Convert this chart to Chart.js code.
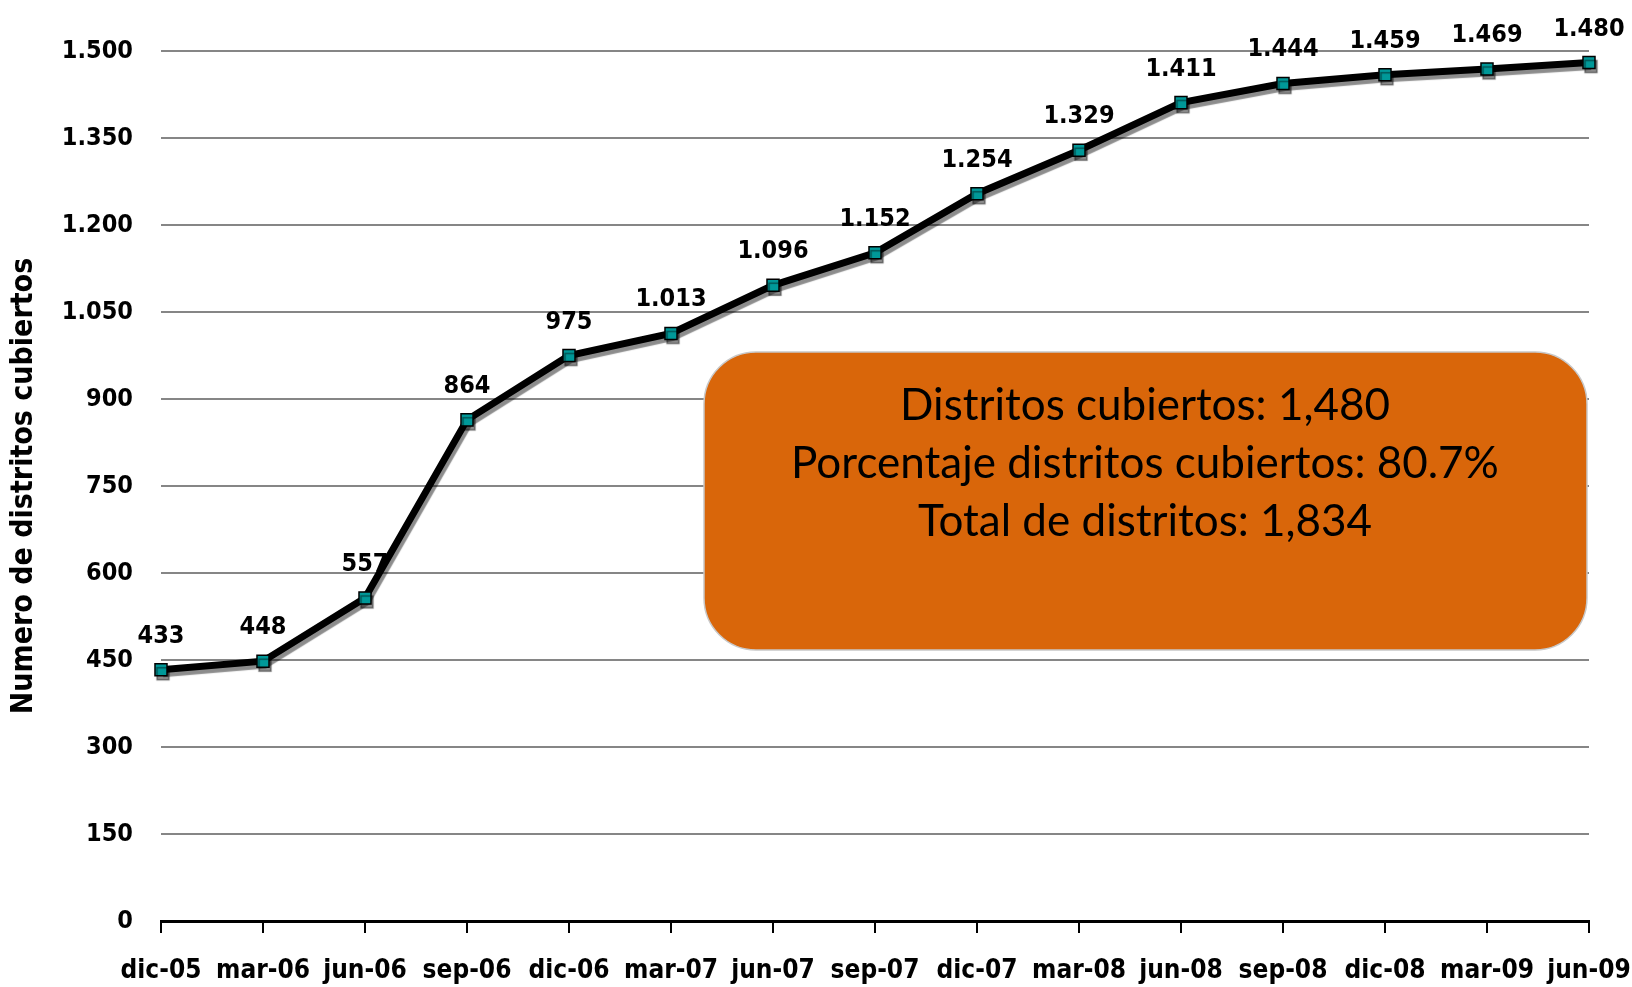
<!DOCTYPE html>
<html>
<head>
<meta charset="utf-8">
<script src="https://cdn.jsdelivr.net/npm/chart.js"></script>
<style>
  body { margin: 0; background: #fff; }
  #wrap { width: 1632px; height: 987px; }
</style>
</head>
<body>
<div id="wrap"><canvas id="myChart" width="1632" height="987"></canvas></div>
<script>
  // datos
  var periodos = ['dic-05', 'mar-06', 'jun-06', 'sep-06', 'dic-06', 'mar-07', 'jun-07', 'sep-07',
                  'dic-07', 'mar-08', 'jun-08', 'sep-08', 'dic-08', 'mar-09', 'jun-09'];
  var distritos = [433, 448, 557, 864, 975, 1013, 1096, 1152, 1254, 1329, 1411, 1444, 1459, 1469, 1480];
  var ejeY = { min: 0, max: 1500, paso: 150 };
  var titoloY = 'Numero de distritos cubiertos';
  var cuadro = ['Distritos cubiertos: 1,480', 'Porcentaje distritos cubiertos: 80.7%', 'Total de distritos: 1,834'];

  var fuente = '"DejaVu Sans Condensed", "DejaVu Sans", sans-serif';

  // 1500 -> "1.500"
  function fmt(v) {
    return String(v).replace(/\B(?=(\d{3})+(?!\d))/g, '.');
  }

  // sombra gris debajo de la linea
  var sombra = {
    id: 'sombra',
    beforeDatasetDraw: function (chart) {
      var c = chart.ctx;
      c.save();
      c.shadowColor = 'rgba(0,0,0,0.45)';
      c.shadowOffsetX = 2;
      c.shadowOffsetY = 4;
      c.shadowBlur = 1;
    },
    afterDatasetDraw: function (chart) {
      chart.ctx.restore();
    }
  };

  // etiquetas de valores encima de los puntos
  var etiquetas = {
    id: 'etiquetas',
    afterDatasetsDraw: function (chart) {
      var c = chart.ctx;
      var meta = chart.getDatasetMeta(0);
      c.save();
      c.font = 'bold 25px ' + fuente;
      c.fillStyle = '#000';
      c.textAlign = 'center';
      c.textBaseline = 'alphabetic';
      meta.data.forEach(function (pt, i) {
        c.fillText(fmt(distritos[i]), pt.x, pt.y - 27);
      });
      c.restore();
    }
  };

  // cuadro naranja con el resumen
  var resumen = {
    id: 'resumen',
    afterDraw: function (chart) {
      var c = chart.ctx;
      c.save();
      c.beginPath();
      c.roundRect(704, 352, 883, 298, 52);
      c.fillStyle = '#D9660A';
      c.fill();
      c.lineWidth = 1.5;
      c.strokeStyle = '#c8c8c8';
      c.stroke();
      c.fillStyle = '#000';
      c.font = '44px Lato, sans-serif';
      c.textAlign = 'center';
      c.textBaseline = 'middle';
      cuadro.forEach(function (t, i) {
        c.fillText(t, 1145, 406 + i * 58);
      });
      c.restore();
    }
  };

  var ctx = document.getElementById('myChart').getContext('2d');
  var myChart = new Chart(ctx, {
    type: 'line',
    data: {
      labels: periodos,
      datasets: [{
        data: distritos,
        borderColor: '#000',
        borderWidth: 7,
        tension: 0,
        fill: false,
        pointStyle: 'rect',
        pointRadius: 8.5,
        pointBackgroundColor: '#009999',
        pointBorderColor: '#000',
        pointBorderWidth: 1.5
      }]
    },
    options: {
      responsive: false,
      animation: false,
      layout: { padding: { top: 51, right: 43, left: 0, bottom: 0 } },
      plugins: {
        legend: { display: false },
        tooltip: { enabled: false }
      },
      scales: {
        x: {
          offset: false,
          afterFit: function (s) { s.height = 66; s.paddingLeft = 0; s.paddingRight = 0; },
          grid: {
            display: true,
            drawOnChartArea: false,
            drawTicks: true,
            tickLength: 12,
            color: '#000',
            lineWidth: 2
          },
          border: { color: '#000', width: 3 },
          ticks: {
            padding: 23,
            color: '#000',
            maxRotation: 0,
            autoSkip: false,
            font: { family: fuente, size: 26, weight: 'bold' }
          }
        },
        y: {
          min: ejeY.min,
          max: ejeY.max,
          afterFit: function (s) { s.width = 161; s.paddingTop = 0; s.paddingBottom = 0; },
          grid: {
            drawTicks: false,
            lineWidth: 2,
            color: function (c) { return c.tick && c.tick.value === 0 ? 'rgba(0,0,0,0)' : '#868686'; }
          },
          border: { display: false },
          ticks: {
            stepSize: ejeY.paso,
            padding: 28,
            color: '#000',
            font: { family: fuente, size: 25, weight: 'bold' },
            callback: function (v) { return fmt(v); }
          },
          title: {
            display: true,
            text: titoloY,
            color: '#000',
            padding: { top: 6, bottom: 0 },
            font: { family: fuente, size: 30, weight: 'bold' }
          }
        }
      }
    },
    plugins: [sombra, etiquetas, resumen]
  });
</script>
</body>
</html>
